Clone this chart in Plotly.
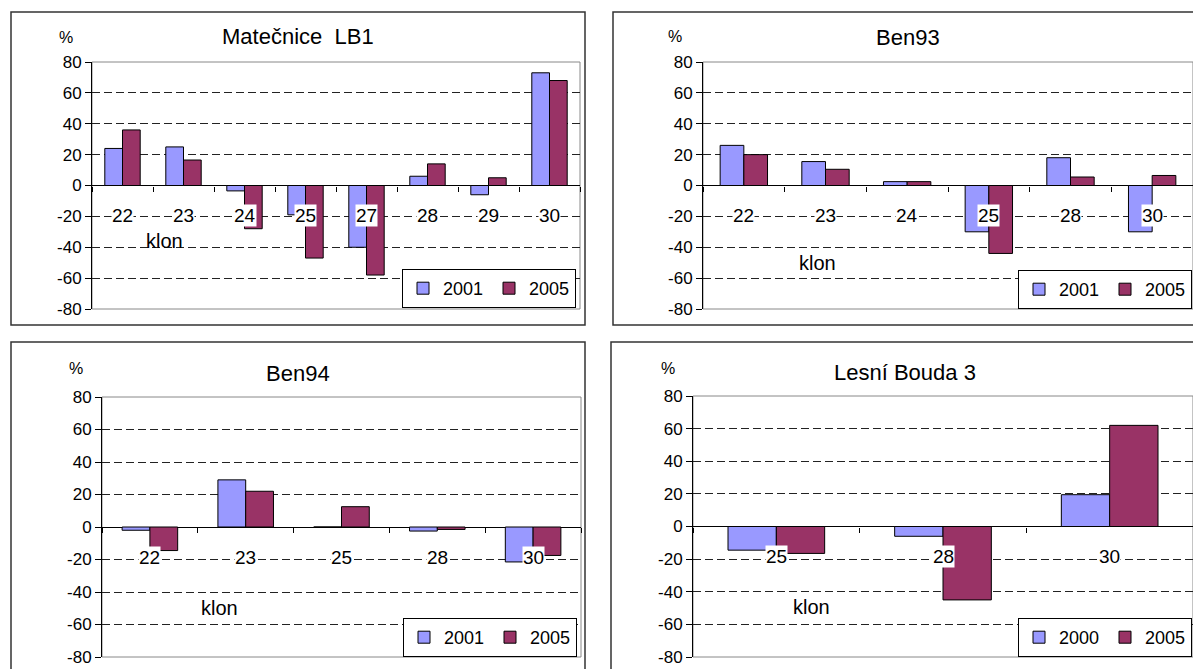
import plotly.graph_objects as go

# ---------------- data ----------------
cats_lb1 = ["22", "23", "24", "25", "27", "28", "29", "30"]
lb1_2001 = [24, 25, -3.5, -19, -40, 6, -6, 73]
lb1_2005 = [36, 16.5, -28, -47, -58, 14, 5, 68]

cats_ben93 = ["22", "23", "24", "25", "28", "30"]
ben93_2001 = [26, 15.5, 2.5, -30, 18, -30]
ben93_2005 = [20, 10.5, 2.5, -44, 5.5, 6.5]

cats_ben94 = ["22", "23", "25", "28", "30"]
ben94_2001 = [-2, 29, 0, -2.5, -21.5]
ben94_2005 = [-14.5, 22, 12.5, -1.5, -17.5]

cats_lb3 = ["25", "28", "30"]
lb3_2000 = [-14.5, -6, 19.5]
lb3_2005 = [-16.5, -45, 62]

titles = ["Matečnice  LB1", "Ben93", "Ben94", "Lesní Bouda 3"]
series_names = [("2001", "2005"), ("2001", "2005"), ("2001", "2005"), ("2000", "2005")]
y_ticks = [-80, -60, -40, -20, 0, 20, 40, 60, 80]
x_title = "klon"
y_title = "%"

panels = [
    (cats_lb1, lb1_2001, lb1_2005),
    (cats_ben93, ben93_2001, ben93_2005),
    (cats_ben94, ben94_2001, ben94_2005),
    (cats_lb3, lb3_2000, lb3_2005),
]

# ---------------- layout geometry (pixels) ----------------
W, H = 1193, 669
FONT = "Arial, Liberation Sans, sans-serif"
C1 = "#9999FF"
C2 = "#993366"

def px(x):
    return x / W

def py(y):
    return 1 - y / H

# plot areas: (left, right, top, bottom) in px
plot_px = [
    (92, 580, 62, 309),
    (703, 1193, 62, 309),
    (102, 581, 397, 657),
    (693, 1193, 396, 657),
]
frames_px = [
    (11, 585, 12, 325),
    (613, 1210, 12, 325),
    (11, 585, 342, 690),
    (611, 1210, 342, 690),
]
title_px = [(298, 36), (908, 37), (298, 373), (905, 372)]
pct_px = [(66, 38), (675, 36), (76, 368), (668, 368)]
klon_px = [(164, 241), (817, 263), (219, 608), (811, 607)]
legend_px = [(576, 308), (1192, 309), (577, 657), (1192, 657)]

fig = go.Figure()
layout = dict(
    width=W, height=H, autosize=False,
    margin=dict(l=0, r=0, t=0, b=0, pad=0, autoexpand=False),
    paper_bgcolor="white", plot_bgcolor="white",
    font=dict(family=FONT, color="black"),
    barmode="group", bargap=0.42, bargroupgap=0,
    showlegend=True,
)
annotations = []
shapes = []

for i, (cats, s1, s2) in enumerate(panels):
    n = "" if i == 0 else str(i + 1)
    l, r, t, b = plot_px[i]
    xd = [px(l), min(px(r), 1.0)]
    yd = [py(b), py(t)]
    leg = "legend" if i == 0 else "legend" + n
    fig.add_trace(go.Bar(
        x=cats, y=s1, name=series_names[i][0], xaxis="x" + n, yaxis="y" + n,
        marker=dict(color=C1, line=dict(color="black", width=1)),
        legend=leg, offsetgroup="a",
    ))
    fig.add_trace(go.Bar(
        x=cats, y=s2, name=series_names[i][1], xaxis="x" + n, yaxis="y" + n,
        marker=dict(color=C2, line=dict(color="black", width=1)),
        legend=leg, offsetgroup="b",
    ))
    layout["xaxis" + n] = dict(
        domain=xd, anchor="free", position=(yd[0] + yd[1]) / 2,
        type="category", showline=False, automargin=False,
        ticks="outside", tickson="boundaries", ticklen=5, tickcolor="black",
        showticklabels=False, showgrid=False, zeroline=False, fixedrange=True,
    )
    layout["yaxis" + n] = dict(
        domain=yd, anchor="x" + n, range=[-80, 80], automargin=False,
        tickvals=y_ticks, ticktext=[str(v) for v in y_ticks],
        showline=True, linecolor="black", linewidth=1,
        ticks="outside", ticklen=6, tickcolor="black",
        showgrid=True, gridcolor="#222222", gridwidth=1, griddash="8px,4px",
        zeroline=True, zerolinecolor="black", zerolinewidth=1,
        tickfont=dict(size=17, family=FONT, color="black"), fixedrange=True,
    )
    lx, ly = legend_px[i]
    layout[leg] = dict(
        x=px(lx), xanchor="right", y=py(ly), yanchor="bottom",
        orientation="h", bgcolor="white", bordercolor="black", borderwidth=1,
        font=dict(size=18, family=FONT, color="black"), itemwidth=30,
        entrywidth=41, entrywidthmode="pixels",
        tracegroupgap=0,
    )
    # plot-area border (gray)
    shapes.append(dict(type="rect", xref="x" + n + " domain", yref="y" + n + " domain",
                       x0=0, x1=1, y0=0, y1=1, line=dict(color="#888888", width=1),
                       layer="below"))
    # outer chart frame
    fl, fr, ft, fb = frames_px[i]
    shapes.append(dict(type="rect", xref="paper", yref="paper",
                       x0=px(fl), x1=px(fr), y0=py(fb), y1=py(ft),
                       line=dict(color="#333333", width=1.5), layer="below"))
    # category labels with white background on the zero axis (by category index)
    for j, c in enumerate(cats):
        annotations.append(dict(
            x=j, y=0, xref="x" + n, yref="y" + n, text=c, showarrow=False,
            xanchor="center", yanchor="middle", yshift=-30,
            bgcolor="white", borderpad=0,
            font=dict(size=19, family=FONT, color="black"),
        ))
    tx, ty = title_px[i]
    annotations.append(dict(x=px(tx), y=py(ty), xref="paper", yref="paper",
                            xanchor="center", yanchor="middle",
                            text=titles[i], showarrow=False,
                            font=dict(size=22, family=FONT, color="black")))
    ax_, ay_ = pct_px[i]
    annotations.append(dict(x=px(ax_), y=py(ay_), xref="paper", yref="paper",
                            xanchor="center", yanchor="middle",
                            text=y_title, showarrow=False,
                            font=dict(size=16, family=FONT, color="black")))
    kx, ky = klon_px[i]
    annotations.append(dict(x=px(kx), y=py(ky), xref="paper", yref="paper",
                            xanchor="center", yanchor="middle",
                            text=x_title, showarrow=False,
                            font=dict(size=20, family=FONT, color="black")))

layout["annotations"] = annotations
layout["shapes"] = shapes
fig.update_layout(**layout)
fig.write_html("out.html", config={"displayModeBar": False},
               post_script="document.body.style.margin='0';")
